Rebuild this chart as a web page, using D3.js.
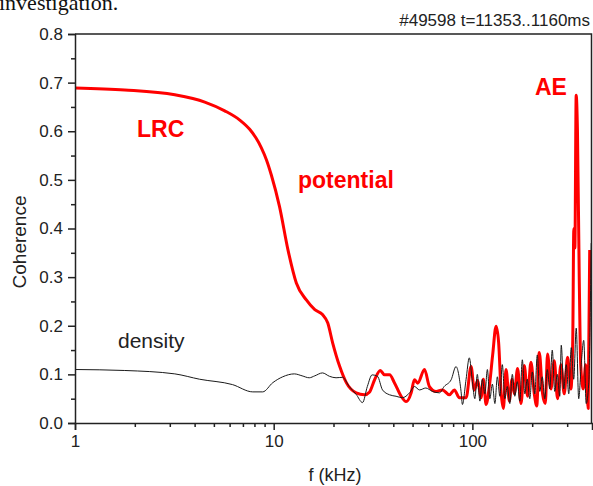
<!DOCTYPE html>
<html>
<head>
  <title>Coherence</title>
  <script src="https://d3js.org/d3.v7.min.js"></script>
  <style>
    body { margin: 0; padding: 0; background: #fff; }
    .axis text { font-family: Arial, "Liberation Sans", sans-serif; font-size: 17px; fill: #222; }
    .axis path, .axis line { stroke: #222; stroke-width: 1.5; }
    .lbl { font-family: Arial, "Liberation Sans", sans-serif; fill: #222; }
    .note { font-family: Arial, "Liberation Sans", sans-serif; font-weight: bold; fill: #ff0000; font-size: 23px; }
  </style>
</head>
<body>
  <div id="chart"></div>
  <script>

    /* DATA: [frequency in kHz, coherence] */

    let potential = [
      [1, 0.689], [1.78, 0.685], [3.18, 0.675], [4.5, 0.660], [5.67, 0.642], [6.75, 0.623],
      [7.57, 0.604], [8.12, 0.587], [8.67, 0.566], [9.2, 0.541], [9.73, 0.510], [10.7, 0.445],
      [11.8, 0.356], [13.0, 0.288], [14.6, 0.253], [16.1, 0.233], [17.6, 0.223], [18.7, 0.206],
      [19.8, 0.165], [21.5, 0.116], [23.2, 0.083], [26.0, 0.062], [28.6, 0.058], [30.4, 0.064],
      [32.2, 0.089], [34.4, 0.108], [36.1, 0.099], [38.3, 0.099], [40.5, 0.083], [43.8, 0.055],
      [46.4, 0.044], [49.2, 0.062], [51.1, 0.089], [53.1, 0.082], [57.4, 0.110], [60.8, 0.075],
      [65.7, 0.065], [70.7, 0.068], [76.6, 0.058], [81.2, 0.068], [86.0, 0.052], [93.0, 0.052],
      [98.5, 0.116], [102.3, 0.068], [106.3, 0.088], [110.6, 0.052], [113.6, 0.090], [117.2, 0.038],
      [121.7, 0.075], [126.5, 0.140], [131.6, 0.199], [135.6, 0.165], [139.4, 0.065], [143.2, 0.030],
      [147.7, 0.110], [153.5, 0.045], [158.3, 0.090], [162.6, 0.060], [168.9, 0.112], [175.7, 0.040],
      [182.5, 0.118], [189.6, 0.055], [197.2, 0.125], [204.9, 0.060], [210.9, 0.035], [217.1, 0.145],
      [225.6, 0.060], [232.8, 0.040], [239.0, 0.142], [248.6, 0.070], [258.3, 0.128], [268.3, 0.050],
      [279.0, 0.120], [290.0, 0.060], [301.3, 0.135], [313.3, 0.070], [320.0, 0.170], [324.0, 0.400],
      [328.0, 0.360], [333.0, 0.674], [338.0, 0.600], [345.0, 0.300], [351.0, 0.120], [361.3, 0.070],
      [371.9, 0.120], [382.8, 0.030], [389.5, 0.356]
    ];

    let density = [
      [1, 0.110], [1.78, 0.108], [3.18, 0.101], [4.24, 0.090], [6.2, 0.079], [7.85, 0.064],
      [8.8, 0.064], [9.9, 0.083], [11.1, 0.095], [12.7, 0.101], [13.9, 0.097], [15.1, 0.093],
      [16.1, 0.097], [17.6, 0.103], [19.1, 0.096], [20.6, 0.093], [22.2, 0.094], [24.0, 0.075],
      [26.0, 0.059], [28.0, 0.042], [29.6, 0.075], [31.3, 0.099], [33.3, 0.096], [35.3, 0.068],
      [38.3, 0.058], [41.3, 0.055], [44.4, 0.052], [48.3, 0.062], [51.1, 0.075], [54.2, 0.068],
      [58.3, 0.072], [62.9, 0.065], [68.3, 0.062], [72.1, 0.075], [78.2, 0.089], [82.7, 0.116],
      [87.7, 0.065], [89.1, 0.038], [92.9, 0.089], [96.5, 0.134],
      [100.0, 0.085], [102.9, 0.050], [105.9, 0.100], [109.1, 0.045], [112.2, 0.090], [115.6, 0.060],
      [119.0, 0.110], [122.4, 0.050], [126.1, 0.080], [129.8, 0.040], [133.6, 0.095], [137.5, 0.055],
      [141.5, 0.120], [145.7, 0.050], [149.9, 0.075], [154.3, 0.040], [158.9, 0.100], [163.5, 0.055],
      [168.3, 0.085], [173.3, 0.045], [178.4, 0.130], [183.6, 0.060], [189.0, 0.090], [194.5, 0.050],
      [200.3, 0.105], [206.1, 0.060], [212.2, 0.140], [218.4, 0.065], [224.8, 0.095], [231.4, 0.050],
      [238.2, 0.110], [245.2, 0.070], [252.4, 0.150], [259.8, 0.065], [267.4, 0.100], [275.3, 0.055],
      [280.1, 0.160], [288.3, 0.070], [296.8, 0.120], [305.5, 0.060], [314.5, 0.155], [323.6, 0.090],
      [333.2, 0.195], [342.9, 0.050], [353.0, 0.120], [363.4, 0.170], [374.0, 0.040], [385.0, 0.080],
      [396.3, 0.370]
    ];

    let xDomain = [1, 400];
    let yDomain = [0, 0.8];
    let xMajorTicks = [1, 10, 100];
    let xMinorTicks = [2, 3, 4, 5, 6, 7, 8, 9, 20, 30, 40, 50, 60, 70, 80, 90, 200, 300];
    let yMajorTicks = [0, 0.1, 0.2, 0.3, 0.4, 0.5, 0.6, 0.7, 0.8];
    let yMinorTicks = [0.05, 0.15, 0.25, 0.35, 0.45, 0.55, 0.65, 0.75];

    /* DIMENSIONS */

    let width = 593, height = 486;
    let margin = {top: 34, left: 75, right: 1, bottom: 63};

    let svg = d3.select("#chart")
      .append("svg")
      .attr("width", width)
      .attr("height", height);

    let xScale = d3.scaleLog()
      .domain(xDomain)
      .range([margin.left, width - margin.right]);

    let yScale = d3.scaleLinear()
      .domain(yDomain)
      .range([height - margin.bottom, margin.top]);

    /* CUT-OFF TEXT FROM THE PAGE ABOVE (it is clipped in the original too) */

    svg.append("text")
      .attr("x", -1)
      .attr("y", 10)
      .style("font-family", "'Liberation Serif', 'Times New Roman', serif")
      .style("font-size", "22px")
      .attr("fill", "#111")
      .text("investigation.");

    /* CLIP + LINES */

    svg.append("clipPath").attr("id", "clip")
      .append("rect")
      .attr("x", margin.left)
      .attr("y", margin.top)
      .attr("width", width - margin.left - margin.right)
      .attr("height", height - margin.top - margin.bottom);

    let line = d3.line()
      .x(function(d) { return xScale(d[0]); })
      .y(function(d) { return yScale(d[1]); })
      .curve(d3.curveMonotoneX);

    svg.append("path")
      .datum(potential)
      .attr("clip-path", "url(#clip)")
      .attr("d", line)
      .attr("fill", "none")
      .attr("stroke", "#ff0000")
      .attr("stroke-width", 3)
      .attr("stroke-linejoin", "round");

    svg.append("path")
      .datum(density)
      .attr("clip-path", "url(#clip)")
      .attr("d", line)
      .attr("fill", "none")
      .attr("stroke", "#1a1a1a")
      .attr("stroke-width", 1);

    /* AXES */

    svg.append("g")
      .attr("class", "axis")
      .attr("transform", `translate(${margin.left},0)`)
      .call(d3.axisLeft(yScale).tickValues(yMajorTicks).tickFormat(d3.format(".1f"))
        .tickSize(7).tickPadding(5));

    svg.append("g")
      .attr("class", "axis")
      .attr("transform", `translate(${margin.left},0)`)
      .call(d3.axisLeft(yScale).tickValues(yMinorTicks).tickFormat("").tickSize(4))
      .select(".domain").remove();

    svg.append("g")
      .attr("class", "axis")
      .attr("transform", `translate(0,${height - margin.bottom})`)
      .call(d3.axisBottom(xScale).tickValues(xMajorTicks).tickFormat(d3.format("d"))
        .tickSize(7).tickPadding(5));

    svg.append("g")
      .attr("class", "axis")
      .attr("transform", `translate(0,${height - margin.bottom})`)
      .call(d3.axisBottom(xScale).tickValues(xMinorTicks).tickFormat("").tickSize(4))
      .select(".domain").remove();

    // top and right frame
    svg.append("path")
      .attr("d", `M${margin.left},${margin.top}H${width - margin.right - 0.5}V${height - margin.bottom}`)
      .attr("fill", "none")
      .attr("stroke", "#222")
      .attr("stroke-width", 1.5);

    /* LABELS */

    svg.append("text")
      .attr("class", "lbl")
      .attr("x", 590)
      .attr("y", 26)
      .attr("text-anchor", "end")
      .style("font-size", "17px")
      .text("#49598 t=11353..1160ms");

    svg.append("text")
      .attr("class", "lbl")
      .attr("transform", "rotate(-90)")
      .attr("x", -242)
      .attr("y", 26)
      .attr("text-anchor", "middle")
      .style("font-size", "19px")
      .text("Coherence");

    svg.append("text")
      .attr("class", "lbl")
      .attr("x", 335)
      .attr("y", 481)
      .attr("text-anchor", "middle")
      .style("font-size", "18px")
      .text("f (kHz)");

    svg.append("text").attr("class", "note").attr("x", 137).attr("y", 137).text("LRC");
    svg.append("text").attr("class", "note").attr("x", 298).attr("y", 188).text("potential");
    svg.append("text").attr("class", "note").attr("x", 535).attr("y", 95).text("AE");

    svg.append("text")
      .attr("class", "lbl")
      .attr("x", 118)
      .attr("y", 348)
      .style("font-size", "21px")
      .text("density");

  </script>
</body>
</html>
